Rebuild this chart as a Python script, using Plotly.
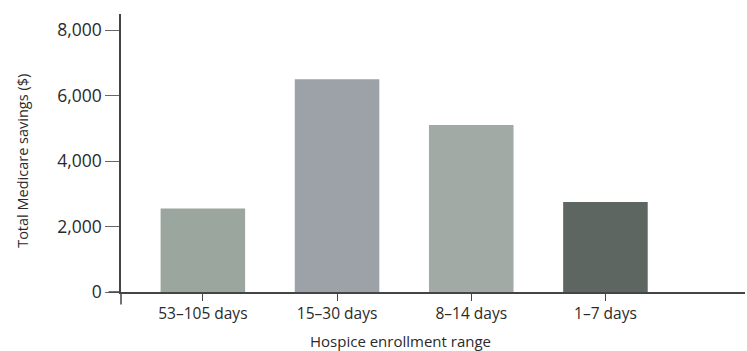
import plotly.graph_objects as go

categories = ["53–105 days", "15–30 days", "8–14 days", "1–7 days"]
savings = [2550, 6500, 5100, 2750]
bar_colors = ["#9ba69f", "#9ca2a8", "#a1aaa5", "#5d6661"]
y_ticks = [0, 2000, 4000, 6000, 8000]
y_tick_labels = ["0", "2,000", "4,000", "6,000", "8,000"]
x_title = "Hospice enrollment range"
y_title = "Total Medicare savings ($)"

font_family = "Open Sans, Noto Sans, sans-serif"
text_color = "#2a2a2a"

fig = go.Figure(
    go.Bar(
        x=list(range(len(categories))),
        y=savings,
        marker=dict(color=bar_colors, line=dict(width=0)),
        width=0.63,
        hoverinfo="skip",
    )
)

fig.update_layout(
    width=747,
    height=351,
    margin=dict(l=121, r=2, t=14, b=59),
    paper_bgcolor="white",
    plot_bgcolor="white",
    showlegend=False,
    font=dict(family=font_family, color=text_color, size=15),
    xaxis=dict(
        range=[-0.61, 4.04],
        tickvals=list(range(len(categories))),
        ticktext=categories,
        showline=True,
        linecolor="#444444",
        linewidth=1.5,
        ticks="outside",
        ticklen=7,
        tickcolor="#444444",
        showgrid=False,
        zeroline=False,
        tickfont=dict(size=15.5, color=text_color),
        automargin=False,
    ),
    yaxis=dict(
        range=[0, 8490],
        tickvals=y_ticks,
        ticktext=y_tick_labels,
        showline=True,
        linecolor="#444444",
        linewidth=1.5,
        ticks="outside",
        ticklen=14,
        tickcolor="#666666",
        showgrid=False,
        zeroline=False,
        tickfont=dict(size=17.5, color=text_color),
        automargin=False,
    ),
    shapes=[
        dict(type="line", xref="paper", yref="paper", x0=0, x1=0, y0=0, y1=-0.045,
             line=dict(color="#444444", width=1.5)),
        dict(type="line", xref="paper", yref="paper", x0=-0.02, x1=0, y0=0, y1=0,
             line=dict(color="#444444", width=1.5)),
    ],
    annotations=[
        dict(text=x_title, xref="x", yref="paper", x=1.47, y=-0.175,
             xanchor="center", yanchor="middle", showarrow=False,
             font=dict(size=15, color=text_color)),
        dict(text=y_title, xref="paper", yref="paper", x=-0.159, y=0.471,
             xanchor="center", yanchor="middle", textangle=-90, showarrow=False,
             font=dict(size=14.5, color=text_color)),
    ],
)

fig.write_html(
    "out.html",
    config={"displayModeBar": False},
    post_script="document.body.style.margin='0';document.body.style.overflow='hidden';",
)
